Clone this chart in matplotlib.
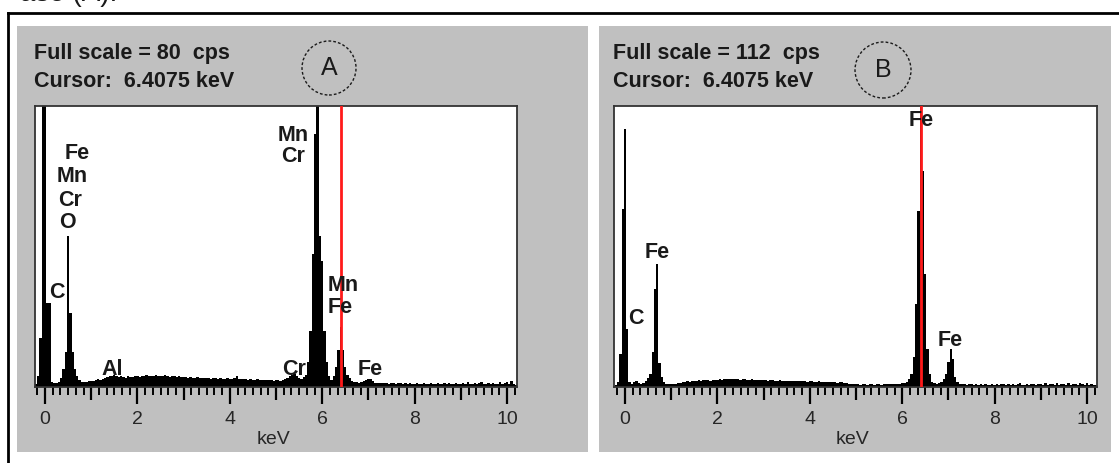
import matplotlib
matplotlib.use("Agg")
import matplotlib.pyplot as plt
import numpy as np
from matplotlib.lines import Line2D
from matplotlib.patches import Ellipse, Rectangle
from matplotlib.ticker import MultipleLocator

plt.rcParams["font.family"] = ["Liberation Sans", "DejaVu Sans"]

# EDS spectra, 0.05 keV channels starting at -0.20 keV (counts per second)
ENERGY_START = -0.20
CHANNEL_WIDTH = 0.05
CURSOR_KEV = 6.4075

FULL_SCALE_A = 80
COUNTS_A = (
    [0.8, 3, 14, 85]
    + [85, 24, 24, 1.5, 1.2, 1.0, 1.3, 2.5, 5, 10, 43, 21, 10, 5, 3.0, 2.0, 1.4, 1.3, 1.5, 1.6]
    + [1.6, 1.8, 2.0, 2.2, 2.0, 2.4, 2.6, 2.8, 3.0, 3.2, 3.4, 3.0, 2.8, 3.0, 2.9, 2.7, 3.1, 2.8, 2.9, 3.0]
    + [3.0, 2.9, 3.2, 3.0, 3.3, 3.1, 3.0, 3.2, 3.4, 3.1, 3.0, 3.2, 3.3, 3.0, 2.9, 3.1, 3.0, 2.8, 3.0, 2.9]
    + [2.8, 2.9, 2.7, 2.8, 2.6, 2.7, 2.8, 2.6, 2.5, 2.7, 2.6, 2.5, 2.4, 2.6, 2.5, 2.4, 2.5, 2.3, 2.4, 2.5]
    + [2.4, 2.3, 2.6, 3.2, 2.4, 2.3, 2.2, 2.3, 2.1, 2.2, 2.0, 2.1, 2.2, 2.0, 1.9, 2.1, 2.0, 1.9, 2.0, 1.8]
    + [1.9, 2.0, 1.8, 2.1, 2.3, 2.6, 3.0, 3.4, 3.6, 3.0, 2.5, 2.4, 2.8, 3.5, 7, 16, 38, 72, 85, 43]
    + [36, 16, 7, 3.0, 2.0, 3.0, 5.7, 10.5, 17, 10.5, 5.7, 3.5, 2.5, 1.6, 1.3, 1.4, 1.2, 1.5, 1.6, 2.0]
    + [2.2, 2.4, 1.6, 1.2, 1.1, 1.0, 1.1, 1.0, 1.2, 0.9, 1.0, 1.1, 0.9, 1.0, 1.2, 0.9, 1.0, 0.8, 1.0, 0.9]
    + [0.9, 1.0, 0.8, 0.9, 1.1, 0.8, 0.9, 1.0, 0.8, 0.9, 1.2, 0.8, 0.9, 1.0, 0.8, 1.1, 0.9, 0.8, 1.0, 0.9]
    + [0.8, 1.0, 0.9, 1.3, 0.8, 0.9, 1.1, 0.8, 1.0, 1.4, 0.8, 0.9, 1.0, 0.8, 1.2, 0.9, 0.8, 1.5, 0.9, 1.0]
    + [1.3, 0.9, 1.6, 0.8, 0.7]
)

FULL_SCALE_B = 112
COUNTS_B = (
    [0.8, 2, 13, 71]
    + [103, 23, 2.0, 1.2, 1.8, 2.4, 1.6, 1.2, 1.5, 2.5, 3.5, 5, 14, 39, 49, 9.5, 4, 2.0, 1.2, 1.0]
    + [1.0, 1.1, 1.2, 1.4, 1.6, 1.8, 2.0, 2.2, 2.0, 2.3, 2.5, 2.4, 2.6, 2.5, 2.7, 2.6, 2.8, 2.5, 2.7, 2.8]
    + [2.9, 3.0, 2.8, 3.1, 3.0, 3.2, 3.0, 3.1, 3.3, 3.0, 2.9, 3.1, 3.0, 2.8, 2.9, 3.0, 2.7, 2.8, 2.9, 2.7]
    + [2.6, 2.7, 2.5, 2.6, 2.7, 2.5, 2.4, 2.6, 2.5, 2.3, 2.4, 2.5, 2.3, 2.4, 2.2, 2.3, 2.4, 2.2, 2.3, 2.1]
    + [2.2, 2.3, 2.1, 2.0, 2.2, 2.0, 1.9, 2.1, 1.8, 1.9, 2.0, 1.8, 1.7, 1.9, 1.8, 1.6, 1.5, 1.3, 1.2, 1.1]
    + [1.0, 1.1, 0.9, 1.0, 1.1, 0.9, 1.0, 1.0, 0.9, 1.1, 1.0, 0.9, 1.0, 1.1, 1.0, 1.0, 1.1, 1.2, 1.2, 1.3]
    + [1.4, 1.6, 2.0, 3.0, 5, 12, 33, 70, 115, 86, 45, 15, 5, 2.0, 1.4, 1.3, 1.5, 2.0, 3.0, 5]
    + [10, 15, 11, 4, 2.0, 1.3, 1.0, 1.1, 0.9, 1.0, 1.2, 0.9, 1.0, 0.8, 1.1, 0.9, 1.0, 0.8, 0.9, 1.0]
    + [0.9, 1.1, 0.8, 1.0, 1.3, 0.9, 1.0, 0.8, 1.2, 0.9, 1.0, 1.4, 0.8, 0.9, 1.1, 0.8, 1.0, 1.3, 0.9, 1.0]
    + [1.1, 0.8, 1.4, 0.9, 1.0, 1.2, 0.8, 1.5, 0.9, 1.0, 1.3, 0.8, 1.6, 0.9, 1.0, 1.2, 0.8, 1.5, 1.0, 0.9]
    + [1.6, 0.9, 1.0, 0.8, 0.7]
)

# peak labels: (text, keV, cps)
PEAKS_A = [
    ("Fe", 0.70, 66.6), ("Mn", 0.59, 59.8), ("Cr", 0.55, 53.2), ("O", 0.49, 46.7),
    ("C", 0.26, 26.8), ("Al", 1.45, 5.1),
    ("Mn", 5.37, 71.7), ("Cr", 5.37, 65.5),
    ("Mn", 6.45, 29.0), ("Fe", 6.39, 22.5),
    ("Cr", 5.40, 5.1), ("Fe", 7.03, 5.1),
]
PEAKS_B = [
    ("Fe", 6.41, 106.4), ("Fe", 0.69, 53.8), ("C", 0.24, 27.5), ("Fe", 7.03, 18.7),
]

W, H = 1119, 463
GRAY = "#c0c0c0"
INK = "#1a1a1a"


def fx(x):
    return x / W


def fy(y):
    return 1 - y / H


def draw_panel(fig, gray, box, zero_px, counts, full_scale, peaks, letter, circle, header):
    gx0, gy0, gx1, gy1 = gray
    fig.add_artist(Rectangle((fx(gx0), fy(gy1)), (gx1 - gx0) / W, (gy1 - gy0) / H,
                             transform=fig.transFigure, facecolor=GRAY,
                             edgecolor="none", zorder=0))

    bx0, by0, bx1, by1 = box
    ax = fig.add_axes([fx(bx0), fy(by1), (bx1 - bx0) / W, (by1 - by0) / H])
    ax.set_facecolor("white")

    edges = ENERGY_START - CHANNEL_WIDTH / 2 + CHANNEL_WIDTH * np.arange(len(counts) + 1)
    ax.stairs(counts, edges, fill=True, color="black", baseline=0, zorder=2)
    ax.axvline(CURSOR_KEV, color="#ff1a1a", lw=2, zorder=3)

    px_per_kev = 46.2
    ax.set_xlim((bx0 - zero_px) / px_per_kev, (bx1 - zero_px) / px_per_kev)
    ax.set_ylim(0, full_scale)
    ax.set_yticks([])

    ax.set_xticks(range(0, 11))
    ax.set_xticklabels([str(k) if k % 2 == 0 else "" for k in range(0, 11)])
    ax.xaxis.set_minor_locator(MultipleLocator(1 / 6))
    ax.tick_params(axis="x", which="major", length=12, width=1.6, pad=5,
                   labelsize=14, labelcolor="#262626", color="black")
    ax.tick_params(axis="x", which="minor", length=6, width=1.4, color="black")
    for k, t in enumerate(ax.xaxis.get_major_ticks()):
        if k % 2 == 1:
            t.tick1line.set_markersize(9)
    for s in ax.spines.values():
        s.set_color("#333333")
        s.set_linewidth(1.3)

    for text, e, c in peaks:
        ax.text(e, c, text, ha="center", va="center", fontsize=15.5,
                fontweight="bold", color=INK, clip_on=False, zorder=4)

    fig.text(fx((bx0 + bx1) / 2 - 3), fy(440), "keV", ha="center", va="center",
             fontsize=14, color="#262626")

    hx = bx0 - 1
    fig.text(fx(hx), fy(54), header, ha="left", va="center", fontsize=15.5,
             fontweight="bold", color=INK)
    fig.text(fx(hx), fy(82), "Cursor:  %.4f keV" % CURSOR_KEV, ha="left",
             va="center", fontsize=15.5, fontweight="bold", color=INK)

    cx, cy, r = circle
    fig.add_artist(Ellipse((fx(cx), fy(cy)), 2 * r / W, 2 * r / H,
                           transform=fig.transFigure, fill=False, edgecolor=INK,
                           linewidth=1.0, linestyle=(0, (2, 1.5))))
    fig.text(fx(cx), fy(cy), letter, ha="center", va="center", fontsize=18,
             color=INK)
    return ax


fig = plt.figure(figsize=(W / 100, H / 100), dpi=100)
fig.patch.set_facecolor("white")

# outer frame (top and left edges only)
fig.add_artist(Line2D([fx(8), fx(8)], [fy(13), 0], color="black", lw=2))
fig.add_artist(Line2D([fx(8), 1], [fy(13), fy(13)], color="black", lw=2))
fig.text(fx(20), fy(1), "ase (A).", ha="left", va="baseline", fontsize=20,
         color=INK)

draw_panel(fig, (17, 26, 588, 452), (35, 106, 517, 387), 45, COUNTS_A,
           FULL_SCALE_A, PEAKS_A, "A", (329, 68, 27),
           "Full scale = %d  cps" % FULL_SCALE_A)
draw_panel(fig, (599, 26, 1111, 452), (614, 106, 1097, 387), 625, COUNTS_B,
           FULL_SCALE_B, PEAKS_B, "B", (883, 70, 28),
           "Full scale = %d  cps" % FULL_SCALE_B)

fig.savefig("out.png", dpi=100)
